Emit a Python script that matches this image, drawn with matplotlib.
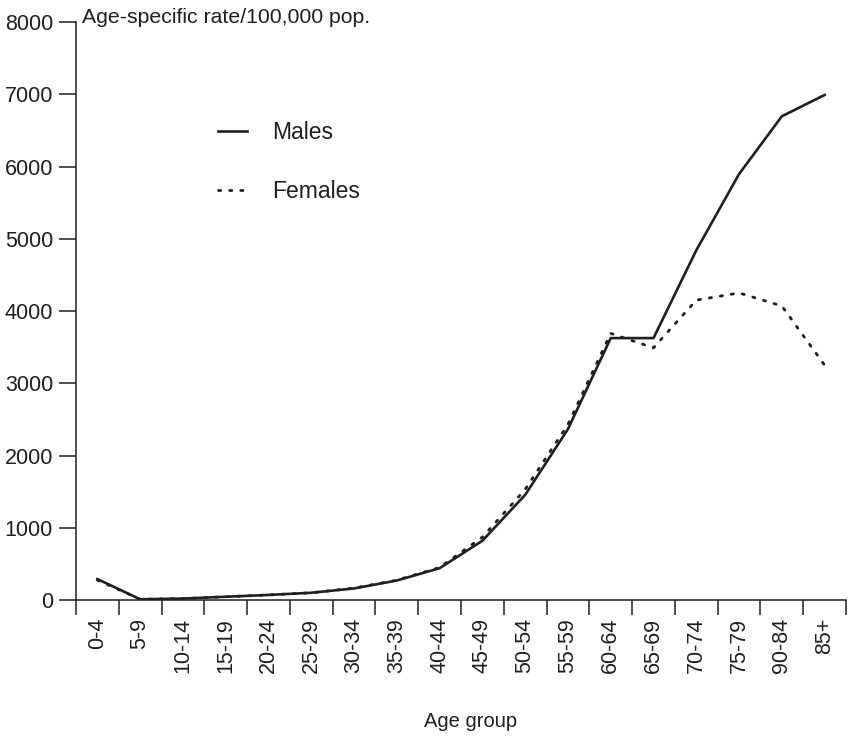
import matplotlib
matplotlib.use("Agg")
import matplotlib.pyplot as plt
import numpy as np

age_groups = ["0-4", "5-9", "10-14", "15-19", "20-24", "25-29", "30-34", "35-39",
              "40-44", "45-49", "50-54", "55-59", "60-64", "65-69", "70-74",
              "75-79", "90-84", "85+"]
males = [290, 10, 20, 45, 70, 100, 160, 270, 440, 820, 1455, 2365, 3625, 3625,
         4840, 5895, 6695, 6990]
females = [275, 10, 20, 45, 70, 100, 165, 275, 450, 870, 1530, 2430, 3690, 3490,
           4150, 4250, 4070, 3250]
y_ticks = [0, 1000, 2000, 3000, 4000, 5000, 6000, 7000, 8000]

plt.rcParams['font.family'] = ['Liberation Sans', 'DejaVu Sans']
INK = '#231f20'

fig = plt.figure(figsize=(8.5, 7.37), dpi=100)
ax = fig.add_axes([76/850, 137/737, (846-76)/850, (600-22)/737])

x = np.arange(len(age_groups)) + 0.5
ax.plot(x, males, color=INK, lw=1.9, label='Males')
ax.plot(x, females, color=INK, lw=2.0, linestyle=(0, (0.8, 3.2)),
        dash_capstyle='round', label='Females')

ax.set_xlim(0, len(age_groups))
ax.set_ylim(0, 8000)
ax.set_yticks(y_ticks)
ax.set_yticklabels([str(v) for v in y_ticks], fontsize=15.5, color=INK)

ax.set_xticks(np.arange(len(age_groups) + 1))
ax.set_xticklabels([])
ax.set_xticks(x, minor=True)
ax.set_xticklabels(age_groups, minor=True, rotation=90, fontsize=15.5, color=INK)
ax.tick_params(axis='x', which='major', direction='out', length=11, width=1.1, color=INK)
ax.tick_params(axis='x', which='minor', length=0, pad=13)
ax.tick_params(axis='y', direction='out', length=12.5, width=1.1, color=INK, pad=4)

for s in ['top', 'right']:
    ax.spines[s].set_visible(False)
for s in ['left', 'bottom']:
    ax.spines[s].set_linewidth(1.1)
    ax.spines[s].set_color(INK)

fig.text(82/850, 1 - 23/737, "Age-specific rate/100,000 pop.",
         fontsize=15.3, color=INK, ha='left', va='baseline')
fig.text(471/850, 1 - 727/737, "Age group", fontsize=14.5, color=INK,
         ha='center', va='baseline')

leg = ax.legend(loc='upper left', bbox_to_anchor=(218/850, 1 - 121/737),
                bbox_transform=fig.transFigure, frameon=False, fontsize=16.5,
                handlelength=1.25, handletextpad=1.1, labelspacing=1.55,
                borderpad=0, borderaxespad=0)
for t in leg.get_texts():
    t.set_color(INK)

fig.savefig("out.png", dpi=100)
